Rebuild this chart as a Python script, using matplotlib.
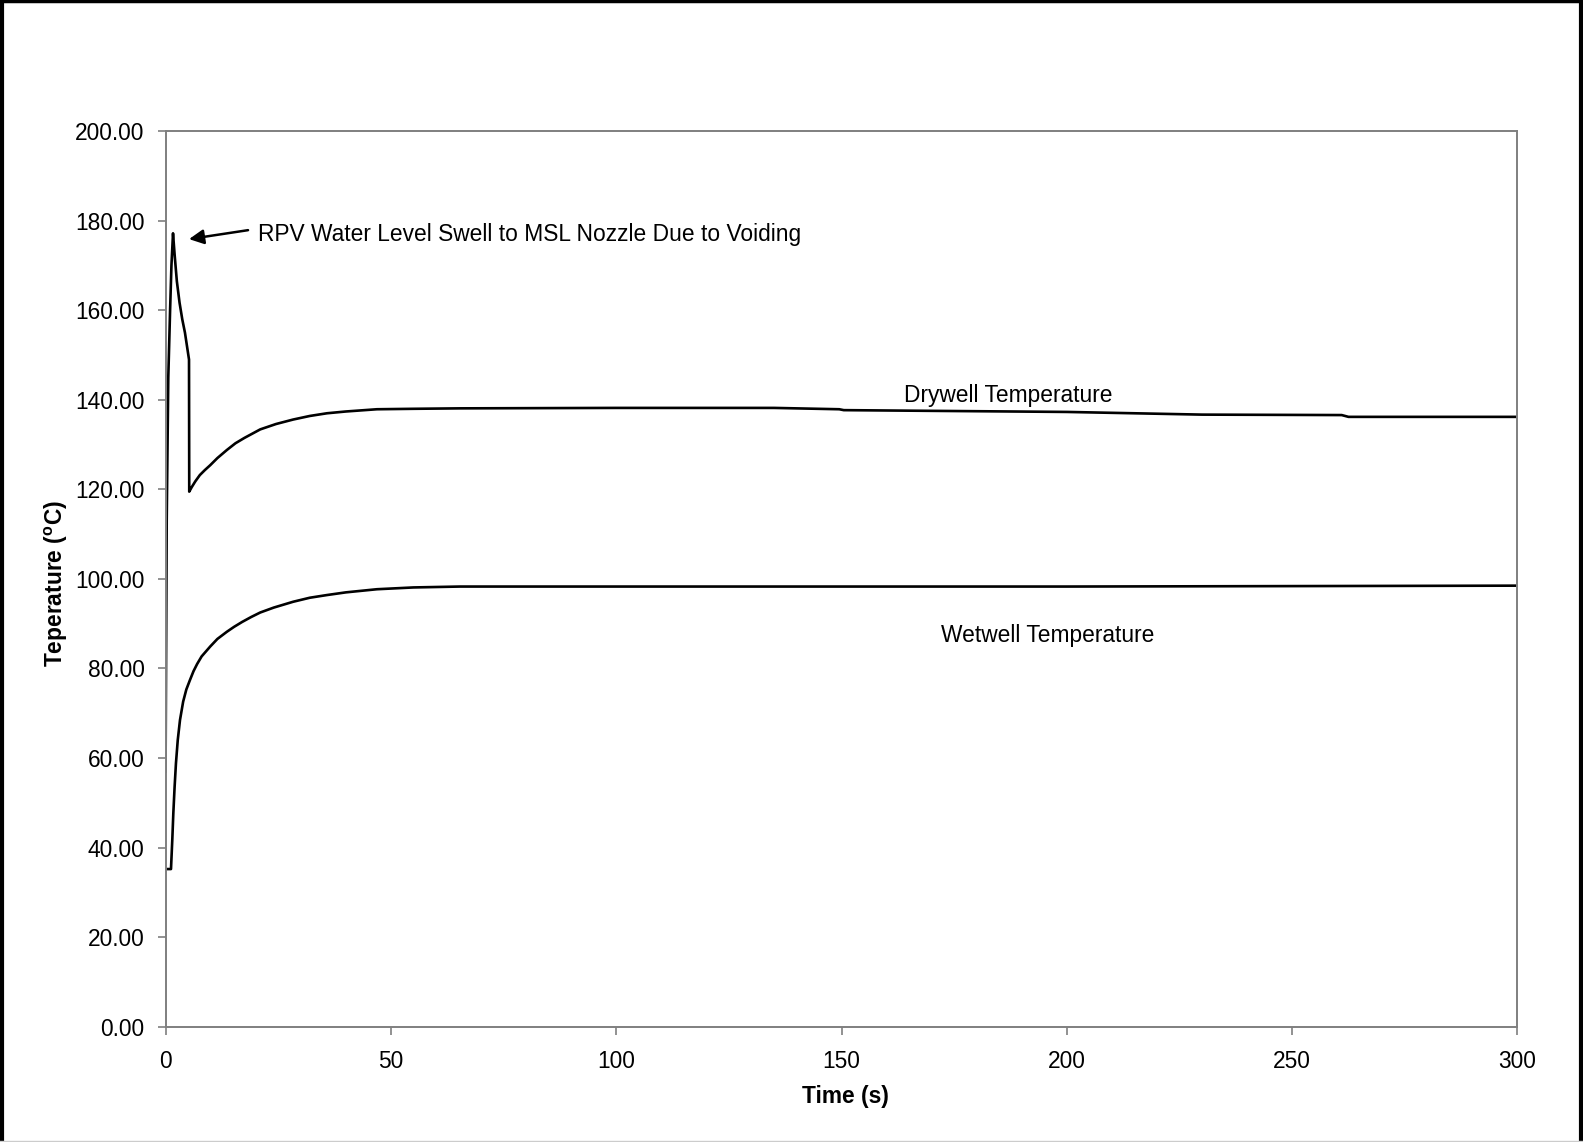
import numpy as np
import matplotlib
matplotlib.use("Agg")
import matplotlib.pyplot as plt
from matplotlib.lines import Line2D

plt.rcParams['font.family'] = ['Liberation Sans', 'DejaVu Sans']
plt.rcParams['mathtext.fontset'] = 'custom'
plt.rcParams['mathtext.rm'] = 'Liberation Sans'
plt.rcParams['mathtext.bf'] = 'Liberation Sans:bold'

# drywell temperature (s, degC)
dry_t = [0, 0.1, 0.25, 0.6, 1.0, 1.3, 1.65, 2.0, 2.5, 3.1, 3.7, 4.3, 5.2, 5.25,
         5.8, 6.6, 7.6, 8.7, 9.9, 11.5, 13.6, 15.5, 17.5, 21.0, 24.5, 28.3, 32.0, 35.8,
         40.0, 46.9, 55.0, 65.3, 100, 135, 149.5, 150.5, 200, 215, 230, 261, 262.5, 300]
dry_v = [57, 80, 113, 145, 160, 170, 177.2, 172.5, 166.5, 161.7, 158, 155, 149, 119.5,
         120.5, 121.8, 123.2, 124.3, 125.4, 127.0, 128.8, 130.3, 131.5, 133.4, 134.6, 135.6, 136.4, 137.0,
         137.4, 137.9, 138.0, 138.1, 138.2, 138.2, 137.9, 137.7, 137.3, 137.0, 136.7, 136.6, 136.2, 136.2]

# wetwell temperature (s, degC)
wet_t = [0, 1.2, 1.5, 1.72, 2.0, 2.3, 2.7, 3.2, 3.9, 4.6, 5.4, 6.2, 7.0, 8.0, 9.9,
         11.5, 13.6, 15.2, 17.0, 19.0, 21.0, 24.0, 28.3, 32.0, 35.8, 40.0, 46.9,
         55.0, 65.3, 100, 200, 300]
wet_v = [35.2, 35.2, 42.0, 47.7, 53.5, 58.8, 64.0, 68.5, 72.6, 75.3, 77.4, 79.4, 81.0, 82.7, 84.9,
         86.6, 88.2, 89.3, 90.4, 91.5, 92.5, 93.6, 94.9, 95.8, 96.4, 97.0, 97.7,
         98.1, 98.3, 98.3, 98.3, 98.5]

fig = plt.figure(figsize=(15.83, 11.42), dpi=100)
ax = fig.add_axes([0.1046, 0.1010, 0.8540, 0.7841])

ax.plot(dry_t, dry_v, color='black', lw=1.9)
ax.plot(wet_t, wet_v, color='black', lw=1.9)

ax.set_xlim(0, 300)
ax.set_ylim(0, 200)
ax.set_xticks(np.arange(0, 301, 50))
ax.set_yticks(np.arange(0, 201, 20))
ax.set_yticklabels(['%.2f' % v for v in np.arange(0, 201, 20)])

fs = 16.4
for s in ax.spines.values():
    s.set_color('#7f7f7f')
    s.set_linewidth(1.4)
ax.tick_params(direction='out', length=6, width=1.2, color='#7f7f7f',
               labelsize=fs, labelcolor='black')
ax.tick_params(axis='y', pad=9)
ax.tick_params(axis='x', pad=11)

ax.set_xlabel('Time (s)', fontsize=fs, fontweight='bold')
ax.set_ylabel(r'Teperature ($^{\mathbf{o}}$C)', fontsize=fs, fontweight='bold')
ax.xaxis.set_label_coords(0.503, -0.065)
ax.yaxis.set_label_coords(-0.071, 0.495)

ax.annotate('', xy=(5.2, 175.9), xytext=(18.3, 177.9),
            arrowprops=dict(arrowstyle='-|>', color='black', lw=1.8,
                            mutation_scale=22, shrinkA=0, shrinkB=0))
ax.text(20.5, 177.0, 'RPV Water Level Swell to MSL Nozzle Due to Voiding',
        fontsize=fs, va='center', ha='left')
ax.text(163.8, 140.9, 'Drywell Temperature', fontsize=fs, va='center', ha='left')
ax.text(172.1, 87.3, 'Wetwell Temperature', fontsize=fs, va='center', ha='left')

# figure frame
fig.add_artist(Line2D([0, 1], [0.999, 0.999], transform=fig.transFigure, color='black', lw=2.5))
fig.add_artist(Line2D([0.001, 0.001], [0, 1], transform=fig.transFigure, color='black', lw=3))
fig.add_artist(Line2D([0.999, 0.999], [0, 1], transform=fig.transFigure, color='black', lw=3))
fig.add_artist(Line2D([0, 1], [0.0005, 0.0005], transform=fig.transFigure, color='#cccccc', lw=1))

fig.savefig('out.png', dpi=100)
